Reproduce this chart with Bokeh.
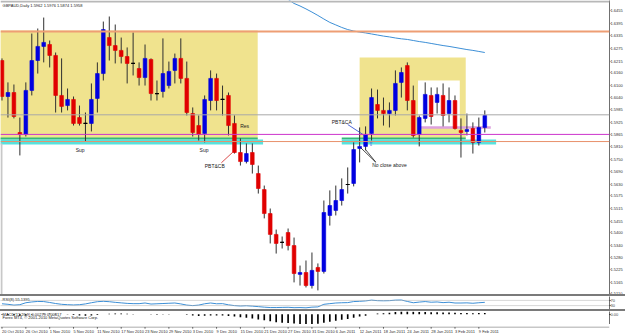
from bokeh.plotting import figure
from bokeh.layouts import column
from bokeh.models import ColumnDataSource, FixedTicker, Range1d, Label, Spacer, BoxAnnotation, Span
from bokeh.embed import file_html
from bokeh.resources import INLINE
from bokeh.core.properties import value

FONT = "Liberation Sans"

title_text = "GBPAUD,Daily  1.5962 1.5976 1.5874 1.5958"

date_labels = ["20 Oct 2010", "26 Oct 2010", "1 Nov 2010", "5 Nov 2010", "11 Nov 2010",
               "17 Nov 2010", "23 Nov 2010", "29 Nov 2010", "3 Dec 2010", "9 Dec 2010",
               "15 Dec 2010", "21 Dec 2010", "27 Dec 2010", "31 Dec 2010", "6 Jan 2011",
               "12 Jan 2011", "18 Jan 2011", "24 Jan 2011", "28 Jan 2011", "3 Feb 2011",
               "9 Feb 2011"]
date_bars = [0, 4, 8, 12, 16, 20, 24, 28, 32, 36, 40, 44, 48, 52, 56, 60, 64, 68, 72, 76, 80]

opens = [1.6218, 1.6047, 1.6066, 1.5876, 1.5867, 1.6076, 1.6218, 1.6285, 1.6294, 1.6242,
         1.6052, 1.6004, 1.6033, 1.5947, 1.5919, 1.5919, 1.6038, 1.6156, 1.6327, 1.6289,
         1.6266, 1.6237, 1.6204, 1.6180, 1.6137, 1.6223, 1.6061, 1.6071, 1.6099, 1.6171,
         1.6228, 1.6133, 1.5966, 1.5909, 1.5871, 1.6028, 1.6133, 1.6033, 1.6052, 1.5919,
         1.5781, 1.5738, 1.5781, 1.5681, 1.5605, 1.5491, 1.5392, 1.5354, 1.5401, 1.5339,
         1.5202, 1.5211, 1.5149, 1.5235, 1.5216, 1.5482, 1.5506, 1.5553, 1.5629, 1.5634,
         1.5800, 1.5810, 1.5871, 1.6009, 1.5981, 1.5966, 1.5981, 1.6114, 1.6194, 1.6028,
         1.5867, 1.5943, 1.6052, 1.6019, 1.6052, 1.5966, 1.6028, 1.5886, 1.5881, 1.5895,
         1.5829, 1.5900]
highs = [1.6228, 1.6114, 1.6104, 1.5947, 1.6114, 1.6346, 1.6370, 1.6422, 1.6313, 1.6256,
         1.6228, 1.6085, 1.6047, 1.6004, 1.5971, 1.6109, 1.6209, 1.6403, 1.6427, 1.6389,
         1.6327, 1.6280, 1.6351, 1.6209, 1.6294, 1.6228, 1.6123, 1.6323, 1.6213, 1.6251,
         1.6323, 1.6213, 1.5995, 1.5957, 1.6052, 1.6171, 1.6156, 1.6099, 1.6066, 1.5957,
         1.5848, 1.5824, 1.5824, 1.5719, 1.5624, 1.5515, 1.5415, 1.5382, 1.5420, 1.5377,
         1.5244, 1.5268, 1.5306, 1.5254, 1.5553, 1.5601, 1.5624, 1.5658, 1.5710, 1.5829,
         1.5900, 1.5905, 1.6085, 1.6080, 1.6042, 1.6019, 1.6171, 1.6185, 1.6209, 1.6099,
         1.5957, 1.6114, 1.6090, 1.6090, 1.6109, 1.6090, 1.6052, 1.5943, 1.5966, 1.5924,
         1.5947, 1.5981]
lows = [1.6028, 1.5947, 1.5943, 1.5767, 1.5857, 1.6052, 1.6156, 1.6209, 1.6185, 1.5971,
        1.5971, 1.5981, 1.5909, 1.5909, 1.5833, 1.5881, 1.5971, 1.6123, 1.6218, 1.6204,
        1.6204, 1.6109, 1.6147, 1.6099, 1.6099, 1.6028, 1.6028, 1.6042, 1.6085, 1.6109,
        1.6109, 1.5957, 1.5857, 1.5838, 1.5829, 1.5981, 1.5981, 1.5957, 1.5862, 1.5776,
        1.5719, 1.5729, 1.5681, 1.5586, 1.5468, 1.5349, 1.5301, 1.5325, 1.5316, 1.5164,
        1.5149, 1.5140, 1.5135, 1.5126, 1.5206, 1.5434, 1.5482, 1.5529, 1.5586, 1.5620,
        1.5734, 1.5791, 1.5838, 1.5943, 1.5909, 1.5900, 1.5957, 1.6042, 1.5981, 1.5852,
        1.5810, 1.5924, 1.5914, 1.5966, 1.5905, 1.5924, 1.5890, 1.5757, 1.5862, 1.5776,
        1.5814, 1.5876]
closes = [1.6047, 1.6066, 1.5952, 1.5867, 1.6076, 1.6218, 1.6285, 1.6304, 1.6242, 1.6052,
          1.6000, 1.6033, 1.5919, 1.5919, 1.5919, 1.6033, 1.6156, 1.6365, 1.6289, 1.6266,
          1.6237, 1.6204, 1.6204, 1.6137, 1.6228, 1.6061, 1.6061, 1.6156, 1.6166, 1.6228,
          1.6133, 1.5971, 1.5876, 1.5867, 1.6033, 1.6133, 1.6028, 1.6033, 1.5909, 1.5781,
          1.5738, 1.5776, 1.5724, 1.5610, 1.5491, 1.5392, 1.5349, 1.5354, 1.5339, 1.5206,
          1.5211, 1.5149, 1.5221, 1.5216, 1.5496, 1.5529, 1.5553, 1.5605, 1.5629, 1.5795,
          1.5810, 1.5867, 1.6042, 1.5981, 1.5966, 1.5981, 1.6109, 1.6161, 1.6028, 1.5862,
          1.5947, 1.6057, 1.5952, 1.6057, 1.5957, 1.6028, 1.5895, 1.5876, 1.5890, 1.5829,
          1.5900, 1.5957]

ma_first_bar = 48
ma_values = [1.6508, 1.6489, 1.6477, 1.6463, 1.6448, 1.6432, 1.6415, 1.6399, 1.6387, 1.6375,
             1.6365, 1.6358, 1.6353, 1.6349, 1.6344, 1.6339, 1.6334, 1.6330, 1.6325, 1.6321,
             1.6318, 1.6313, 1.6308, 1.6304, 1.6299, 1.6294, 1.6289, 1.6285, 1.6280, 1.6275,
             1.6270, 1.6266, 1.6261, 1.6256]

rsi_values = [44, 40, 34, 37, 52, 58, 62, 61, 54, 46, 40, 37, 35, 37, 43, 52, 60, 63, 60, 55,
              51, 47, 45, 45, 50, 42, 44, 46, 48, 50, 43, 34, 30, 34, 44, 50, 44, 45, 36, 30,
              27, 29, 26, 22, 18, 15, 15, 16, 17, 14, 15, 13, 18, 20, 40, 45, 50, 52, 53, 61,
              63, 66, 72, 68, 67, 68, 72, 73, 62, 52, 57, 61, 56, 58, 53, 56, 50, 50, 51, 48,
              52, 55.14]

macd_values = [-1, -1.5, -2, -3, -2.5, -1, 0, 1, 1.5, 1,
               0, -0.5, -1.5, -2.5, -3, -2.5, -1.5, 0, 1, 1.5,
               1.5, 1, 0.5, 0, 0, -0.5, -1, -0.5, -0.5, 0,
               0, -1, -2.5, -3.5, -3, -2.5, -2.5, -2.5, -3.5, -5,
               -6.5, -7.5, -9, -11, -13, -15, -17, -18, -19, -20,
               -21, -21.5, -21, -20.5, -18, -16, -14, -12, -10, -7.5,
               -5, -3, 0, 1.5, 2.5, 3.5, 5, 6, 6, 5.5,
               5, 5, 4.5, 4.5, 4, 4, 3.5, 3, 3, 2.5,
               2.8, 2.79]  # x 0.001

price_ticks = [1.6455, 1.6395, 1.6335, 1.6275, 1.6215, 1.6160, 1.6100, 1.6040, 1.5985, 1.5925,
               1.5865, 1.5810, 1.5750, 1.5690, 1.5630, 1.5575, 1.5515, 1.5455, 1.5400, 1.5340,
               1.5280, 1.5225, 1.5165, 1.5110]

# horizontal levels
res_level = 1.6356
bid_level = 1.5960
magenta_level = 1.5867
sup_level = 1.5833

# zones: (bar_left, bar_right, price_bottom, price_top)
zone_left = (-0.3, 42.9, 1.5843, 1.6361)
zone_right = (60.0, 77.8, 1.5848, 1.6232)
white_box = (69.8, 76.8, 1.5900, 1.6123)
band_left_green = (-0.3, 42.9, 1.5843, 1.5852)
band_left_cyan = (-0.3, 43.8, 1.5819, 1.5843)
band_right_green = (57.0, 77.8, 1.5843, 1.5852)
band_right_cyan = (57.0, 82.9, 1.5819, 1.5843)

X0, X1 = -0.25, 101.92
W = 625
RB = 14

n = len(opens)
idx = list(range(n))
up_c, dn_c = "#0000E0", "#E00000"
colors = [up_c if c > o else (dn_c if c < o else "#000000") for o, c in zip(opens, closes)]
src = ColumnDataSource(dict(x=idx, h=highs, l=lows,
                            top=[max(o, c) for o, c in zip(opens, closes)],
                            bottom=[min(o, c) for o, c in zip(opens, closes)],
                            color=colors))

p = figure(width=W, height=294, x_range=Range1d(X0, X1), y_range=Range1d(1.51065, 1.6503),
           output_backend="svg", toolbar_location=None, x_axis_location=None,
           y_axis_location="right", min_border_left=0, min_border_right=RB,
           min_border_top=0, min_border_bottom=0)
p.grid.visible = False
p.outline_line_color = None
p.background_fill_color = "#FFFFFF"

def q(fig, box, color, alpha=1.0):
    fig.quad(left=[box[0]], right=[box[1]], bottom=[box[2]], top=[box[3]],
             fill_color=color, line_color=None, fill_alpha=alpha)

q(p, zone_left, "#F0E38E")
q(p, zone_right, "#F0E38E")
q(p, white_box, "#FFFFFF")
q(p, band_left_green, "#34B87A")
q(p, band_left_cyan, "#56E2DE")
q(p, band_right_green, "#34B87A")
q(p, band_right_cyan, "#56E2DE")

p.add_layout(BoxAnnotation(bottom=1.6494, fill_color="#B8B8B8", fill_alpha=1, line_color=None))
p.add_layout(BoxAnnotation(right=0.08, top=1.5824, fill_color="#C8C8C8", fill_alpha=1, line_color=None))

p.add_layout(Span(location=res_level, dimension="width", line_color="#EE9E74", line_width=2))
p.add_layout(Span(location=bid_level, dimension="width", line_color="#A8A8A8", line_width=1))
p.add_layout(Span(location=magenta_level, dimension="width", line_color="#CC33CC", line_width=1))
p.add_layout(Span(location=sup_level, dimension="width", line_color="#E8906A", line_width=1))

p.segment(x0=[69.8], y0=[1.5900], x1=[82.0], y1=[1.5900], line_color="#DDA0DD", line_width=2.5)

ma_x = list(range(ma_first_bar, ma_first_bar + len(ma_values)))
p.line(ma_x, ma_values, line_color="#3D8FD6", line_width=1)

p.segment(x0="x", y0="h", x1="x", y1="l", line_color="#303030", line_width=1, source=src)
p.vbar(x="x", width=0.62, top="top", bottom="bottom", fill_color="color", line_color="color",
       line_width=0.6, source=src)
doji = [i for i in idx if opens[i] == closes[i]]
p.segment(x0=[i - 0.31 for i in doji], y0=[opens[i] for i in doji],
          x1=[i + 0.31 for i in doji], y1=[opens[i] for i in doji], line_color="#000000", line_width=1.2)

tf = value(FONT)
p.text(x=[13.1, 33.9], y=[1.5795, 1.5795], text=["Sup", "Sup"], text_font=tf,
       text_font_size="5px", text_align="center", text_baseline="middle", text_color="#202020")
p.text(x=[40.7], y=[1.5909], text=["Res"], text_font=tf, text_font_size="5px",
       text_align="center", text_baseline="middle", text_color="#202020")
p.text(x=[35.7], y=[1.5719], text=["PBT&CB"], text_font=tf, text_font_size="5px",
       text_align="center", text_baseline="middle", text_color="#202020")
p.segment(x0=[36.8], y0=[1.5732], x1=[38.7], y1=[1.5782], line_color="#D02020", line_width=0.8)
p.text(x=[57.0], y=[1.5924], text=["PBT&CA"], text_font=tf, text_font_size="5px",
       text_align="center", text_baseline="middle", text_color="#202020")
p.segment(x0=[58.0], y0=[1.5914], x1=[60.8], y1=[1.5862], line_color="#2040D0", line_width=0.8)
p.text(x=[65.0], y=[1.5724], text=["No close above"], text_font=tf, text_font_size="5px",
       text_align="center", text_baseline="middle", text_color="#202020")
p.segment(x0=[62.7, 62.7], y0=[1.5735, 1.5735], x1=[60.2, 61.0], y1=[1.5803, 1.5795],
          line_color="#202020", line_width=0.8)
p.text(x=[61.9], y=[1.5824], text=["\u21e7"], text_font=value("DejaVu Sans"), text_font_size="6px",
       text_align="center", text_baseline="middle", text_color="#3050D0")

p.text(x=[0.1], y=[1.6478], text=[title_text], text_font=tf, text_font_size="4px",
       text_align="left", text_baseline="middle", text_color="#202020")

p.yaxis.ticker = FixedTicker(ticks=price_ticks)
p.yaxis.major_label_overrides = {t: "%.4f" % t for t in price_ticks}
p.yaxis.major_label_text_font = FONT
p.yaxis.major_label_text_font_size = "4px"
p.yaxis.major_label_standoff = 0
p.yaxis.major_tick_out = 1
p.yaxis.major_tick_in = 0
p.yaxis.minor_tick_out = 0
p.yaxis.minor_tick_in = 0
p.yaxis.axis_line_color = "#707070"
p.yaxis.major_tick_line_color = "#707070"
p.yaxis.major_label_text_color = "#303030"

for lvl, bg, fg, txt in [(res_level, "#EE8A50", "#FFFFFF", "1.6356"),
                         (bid_level, "#000000", "#FFFFFF", "1.5960"),
                         (magenta_level, "#CC33CC", "#FFFFFF", "1.5867"),
                         (sup_level, "#E8743A", "#FFFFFF", "1.5833")]:
    p.add_layout(Label(x=X1, y=lvl, text=txt, text_font=FONT, text_font_size="4px",
                       text_color=fg, background_fill_color=bg, text_align="left",
                       text_baseline="middle", x_offset=1))

sep1 = Spacer(width=W, height=2, styles={"background-color": "#7A7A7A"})
sep2 = Spacer(width=W, height=2, styles={"background-color": "#7A7A7A"})

r = figure(width=W, height=13, x_range=p.x_range, y_range=Range1d(0, 100),
           output_backend="svg", toolbar_location=None, x_axis_location=None,
           y_axis_location="right", min_border_left=0, min_border_right=RB,
           min_border_top=0, min_border_bottom=0)
r.grid.visible = False
r.outline_line_color = None
r.add_layout(Span(location=70, dimension="width", line_color="#B0B0B0", line_width=1, line_dash="1 1"))
r.add_layout(Span(location=30, dimension="width", line_color="#B0B0B0", line_width=1, line_dash="1 1"))
r.line(idx, rsi_values, line_color="#3D8FD6", line_width=1)
r.text(x=[0.1], y=[95], text=["RSI(8) 55.1395"], text_font=tf, text_font_size="4px",
       text_align="left", text_baseline="top", text_color="#202020")
r.yaxis.ticker = FixedTicker(ticks=[70, 30])
r.yaxis.major_label_text_font_size = "4px"
r.yaxis.major_label_standoff = 0
r.yaxis.major_tick_out = 1
r.yaxis.major_tick_in = 0
r.yaxis.minor_tick_out = 0
r.yaxis.minor_tick_in = 0
r.yaxis.axis_line_color = "#707070"

m = figure(width=W, height=13, x_range=p.x_range, y_range=Range1d(-22, 6),
           output_backend="svg", toolbar_location=None, x_axis_location=None,
           y_axis_location="right", min_border_left=0, min_border_right=RB,
           min_border_top=0, min_border_bottom=0)
m.grid.visible = False
m.outline_line_color = None
m.vbar(x=idx, width=0.28, top=macd_values, bottom=0, fill_color="#000000", line_color=None)
m.text(x=[0.1, 0.1], y=[5.5, -1.0], text=["MACD(12,26,9) 0.00279 0.00617",
                                          "Forex MT4, \u00a9 2001-2010 MetaQuotes Software Corp."],
       text_font=tf, text_font_size="4px", text_align="left", text_baseline="top",
       text_color="#202020")
m.yaxis.ticker = FixedTicker(ticks=[0])
m.yaxis.major_label_overrides = {0: "0.00"}
m.yaxis.major_label_text_font_size = "4px"
m.yaxis.major_label_standoff = 0
m.yaxis.major_tick_out = 1
m.yaxis.major_tick_in = 0
m.yaxis.minor_tick_out = 0
m.yaxis.minor_tick_in = 0
m.yaxis.axis_line_color = "#707070"

d = figure(width=W, height=10, x_range=p.x_range, y_range=Range1d(0, 1),
           output_backend="svg", toolbar_location=None, x_axis_location=None,
           y_axis_location=None, min_border_left=0, min_border_right=RB,
           min_border_top=0, min_border_bottom=0)
d.grid.visible = False
d.outline_line_color = None
d.line([X0, X1], [0.95, 0.95], line_color="#909090", line_width=1)
d.segment(x0=date_bars, y0=[0.95] * len(date_bars), x1=date_bars, y1=[0.78] * len(date_bars),
          line_color="#404040", line_width=0.8)
d.text(x=date_bars, y=[0.55] * len(date_bars), text=date_labels, text_font=tf,
       text_font_size="4px", text_align="left", text_baseline="middle", text_color="#303030")

layout = column(p, sep1, r, sep2, m, d, spacing=0)
open("out.html", "w").write(file_html(layout, INLINE))
